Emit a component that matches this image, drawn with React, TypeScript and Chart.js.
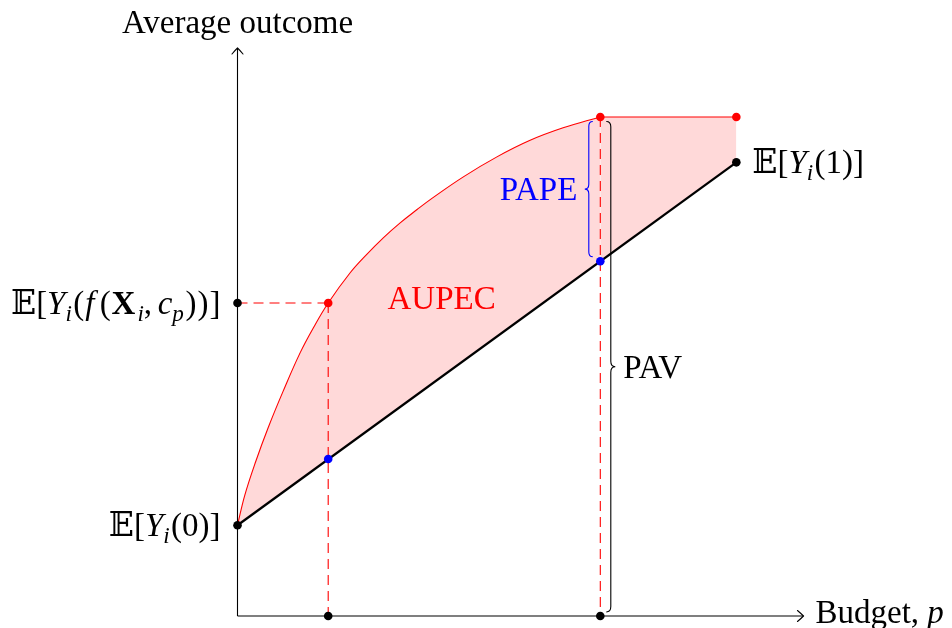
import React, { useEffect, useRef } from "react";
import { Chart, registerables } from "chart.js";

Chart.register(...registerables);

// ---- data (budget p on x, average outcome on y) ----
const curveBudget = [0, 0.08, 0.2, 0.34, 0.5, 0.69, 0.85, 1.0, 1.24, 1.42, 1.61, 1.79, 1.98, 2.14, 2.49, 2.86, 3.22, 3.59, 4.0];
const curveOutcome = [1.0, 1.33, 1.7, 2.08, 2.47, 2.9, 3.2, 3.45, 3.78, 3.98, 4.17, 4.33, 4.48, 4.6, 4.84, 5.06, 5.24, 5.38, 5.5];
const diagBudget = [0, 5.5];
const diagOutcome = [1.0, 5.0];
const flatBudget = [4.0, 5.5];
const flatOutcome = [5.5, 5.5];
const markBudget = [1.0, 4.0];
const markAupec = [3.45, 5.5];
const markRandom = [1.73, 3.91];
const axisMaxX = 6.24;
const axisMaxY = 6.26;

const RED = "#ff0000";
const BLUE = "#0000ff";
const BLACK = "#000000";
const FILL = "rgb(255,217,217)";
const SERIF = "'Liberation Serif', 'DejaVu Serif', 'DejaVu Sans', serif";
const FS = 33;
const U = 90.7;

type Seg = { t: string; s?: "r" | "i" | "b"; sub?: boolean; k?: number };

const zip = (xs: number[], ys: number[]) => xs.map((x, i) => ({ x, y: ys[i] }));

function fontFor(seg: Seg, size: number) {
  const sz = seg.sub ? size * 0.7 : size;
  const st = seg.s === "i" ? "italic " : seg.s === "b" ? "bold " : "";
  return `${st}${sz}px ${SERIF}`;
}

function drawRich(ctx: CanvasRenderingContext2D, segs: Seg[], x: number, y: number, align: "left" | "right" | "center", color: string, size = FS) {
  ctx.save();
  ctx.textBaseline = "alphabetic";
  ctx.textAlign = "left";
  ctx.fillStyle = color;
  const widths = segs.map((s) => {
    ctx.font = fontFor(s, size);
    return ctx.measureText(s.t).width + (s.k || 0) * size;
  });
  const total = widths.reduce((a, b) => a + b, 0);
  let cx = align === "left" ? x : align === "right" ? x - total : x - total / 2;
  segs.forEach((s, i) => {
    ctx.font = fontFor(s, size);
    ctx.fillText(s.t, cx, y + (s.sub ? size * 0.2 : 0));
    cx += widths[i];
  });
  ctx.restore();
}

function drawArrow(ctx: CanvasRenderingContext2D, x: number, y: number, dx: number, dy: number) {
  const L = 6, W = 5.5;
  const px = -dy, py = dx;
  const bx = x - L * dx, by = y - L * dy;
  ctx.save();
  ctx.strokeStyle = BLACK;
  ctx.lineWidth = 1.1;
  ctx.lineCap = "round";
  ctx.beginPath();
  ctx.moveTo(bx + W * px, by + W * py);
  ctx.quadraticCurveTo(x - L * 0.3 * dx + W * 0.35 * px, y - L * 0.3 * dy + W * 0.35 * py, x, y);
  ctx.quadraticCurveTo(x - L * 0.3 * dx - W * 0.35 * px, y - L * 0.3 * dy - W * 0.35 * py, bx - W * px, by - W * py);
  ctx.stroke();
  ctx.restore();
}

function drawBrace(ctx: CanvasRenderingContext2D, xBase: number, yTop: number, yBot: number, dir: number, a: number, color: string) {
  const xs = xBase + (dir * a) / 2;
  const xt = xBase + dir * a;
  const ym = (yTop + yBot) / 2;
  const r = a * 0.6;
  ctx.save();
  ctx.strokeStyle = color;
  ctx.lineWidth = 1.1;
  ctx.beginPath();
  ctx.moveTo(xBase, yTop);
  ctx.quadraticCurveTo(xs, yTop, xs, yTop + r);
  ctx.lineTo(xs, ym - r);
  ctx.quadraticCurveTo(xs, ym, xt, ym);
  ctx.quadraticCurveTo(xs, ym, xs, ym + r);
  ctx.lineTo(xs, yBot - r);
  ctx.quadraticCurveTo(xs, yBot, xBase, yBot);
  ctx.stroke();
  ctx.restore();
}

const labelY0: Seg[] = [{ t: "𝔼" }, { t: "[" }, { t: "Y", s: "i" }, { t: "i", s: "i", sub: true, k: 0.04 }, { t: "(0)]" }];
const labelY1: Seg[] = [{ t: "𝔼" }, { t: "[" }, { t: "Y", s: "i" }, { t: "i", s: "i", sub: true, k: 0.04 }, { t: "(1)]" }];
const labelMid: Seg[] = [
  { t: "𝔼" }, { t: "[" }, { t: "Y", s: "i" }, { t: "i", s: "i", sub: true, k: 0.04 }, { t: "(", k: 0.03 },
  { t: "f", s: "i", k: 0.16 }, { t: "(", k: 0.03 }, { t: "X", s: "b", k: 0.06 }, { t: "i", s: "i", sub: true }, { t: ",", k: 0.17 },
  { t: "c", s: "i" }, { t: "p", s: "i", sub: true, k: 0.05 }, { t: ")", k: 0.03 }, { t: ")", k: 0.03 }, { t: "]" },
];
const labelBudget: Seg[] = [{ t: "Budget, " }, { t: "p", s: "i" }];

const overlay = {
  id: "overlay",
  afterDatasetsDraw(chart: any) {
    const ctx: CanvasRenderingContext2D = chart.ctx;
    const xs = chart.scales.x, ys = chart.scales.y;
    const X = (v: number) => xs.getPixelForValue(v);
    const Y = (v: number) => ys.getPixelForValue(v);
    // axis arrows
    drawArrow(ctx, X(axisMaxX), Y(0), 1, 0);
    drawArrow(ctx, X(0), Y(axisMaxY), 0, -1);
    // braces
    const bx = X(markBudget[1]);
    const bTop = Y(markAupec[1]) + 4.5;
    const bBot = Y(markRandom[1]) - 4.5;
    drawBrace(ctx, bx - 7.5, bTop, bBot, -1, 8, BLUE);
    drawBrace(ctx, bx + 6, bTop, Y(0) - 4, 1, 9, BLACK);
    // text
    drawRich(ctx, [{ t: "PAPE" }], bx - 23, (bTop + bBot) / 2 + 11, "right", BLUE);
    drawRich(ctx, [{ t: "PAV" }], bx + 23, (bTop + Y(0) - 4) / 2 + 11, "left", BLACK);
    drawRich(ctx, [{ t: "AUPEC" }], X(2.25), Y(3.5) + 11, "center", RED);
    drawRich(ctx, labelY0, X(0) - 17, Y(diagOutcome[0]) + 11, "right", BLACK);
    drawRich(ctx, labelMid, X(0) - 17, Y(markAupec[0]) + 11, "right", BLACK);
    drawRich(ctx, labelY1, X(diagBudget[1]) + 16, Y(diagOutcome[1]) + 11, "left", BLACK);
    drawRich(ctx, labelBudget, X(axisMaxX) + 12, Y(0) + 7, "left", BLACK);
    drawRich(ctx, [{ t: "Average outcome" }], X(0), Y(axisMaxY) - 15, "center", BLACK);
  },
};

export default function App() {
  const ref = useRef<HTMLCanvasElement | null>(null);
  useEffect(() => {
    if (!ref.current) return;
    const line = (data: any[], color: string, width: number, extra: any = {}) => ({
      data,
      showLine: true,
      borderColor: color,
      borderWidth: width,
      pointRadius: 0,
      pointHoverRadius: 0,
      fill: false,
      clip: false,
      ...extra,
    });
    const pts = (data: any[], color: string) => ({
      data,
      showLine: false,
      pointRadius: 4.3,
      pointHoverRadius: 4.3,
      pointBackgroundColor: color,
      pointBorderWidth: 0,
      borderColor: color,
      clip: false,
      order: 0,
    });
    const dash = [10, 6];
    const chart = new Chart(ref.current, {
      type: "scatter",
      data: {
        datasets: [
          // 0 diagonal (random allocation)
          line(zip(diagBudget, diagOutcome), BLACK, 2.3, { order: 2 }),
          // 1 AUPEC curve, filled to diagonal
          line(zip(curveBudget, curveOutcome), RED, 1.1, {
            order: 3,
            tension: 0.4,
            fill: { target: 0 },
            backgroundColor: FILL,
          }),
          // 2 flat part, filled to diagonal
          line(zip(flatBudget, flatOutcome), RED, 1.1, { order: 3, fill: { target: 0 }, backgroundColor: FILL }),
          // dashed guides
          line([{ x: 0, y: markAupec[0] }, { x: markBudget[0], y: markAupec[0] }], RED, 1.1, { order: 1, borderDash: dash }),
          line([{ x: markBudget[0], y: markAupec[0] }, { x: markBudget[0], y: 0 }], RED, 1.1, { order: 1, borderDash: dash }),
          line([{ x: markBudget[1], y: markAupec[1] }, { x: markBudget[1], y: 0 }], RED, 1.1, { order: 1, borderDash: dash }),
          // axes
          line([{ x: 0, y: 0 }, { x: axisMaxX, y: 0 }], BLACK, 1.1, { order: 5 }),
          line([{ x: 0, y: 0 }, { x: 0, y: axisMaxY }], BLACK, 1.1, { order: 5 }),
          // markers
          pts([...zip(markBudget, markAupec), { x: flatBudget[1], y: flatOutcome[1] }], RED),
          pts(zip(markBudget, markRandom), BLUE),
          pts(
            [
              { x: diagBudget[0], y: diagOutcome[0] },
              { x: diagBudget[1], y: diagOutcome[1] },
              { x: 0, y: markAupec[0] },
              { x: markBudget[0], y: 0 },
              { x: markBudget[1], y: 0 },
            ],
            BLACK
          ),
        ],
      },
      options: {
        responsive: false,
        animation: false,
        events: [],
        layout: { padding: { left: 237.5, right: 952 - 237.5 - axisMaxX * U, top: 48, bottom: 12 } },
        scales: {
          x: { type: "linear", min: 0, max: axisMaxX, display: false },
          y: { type: "linear", min: 0, max: axisMaxY, display: false },
        },
        plugins: {
          legend: { display: false },
          tooltip: { enabled: false },
          filler: { drawTime: "beforeDatasetsDraw" },
        },
      } as any,
      plugins: [overlay],
    });
    return () => chart.destroy();
  }, []);
  return (
    <div style={{ position: "fixed", left: 0, top: 0, width: 952, height: 628, background: "#fff" }}>
      <canvas ref={ref} width={952} height={628} style={{ width: 952, height: 628, display: "block" }} />
    </div>
  );
}
